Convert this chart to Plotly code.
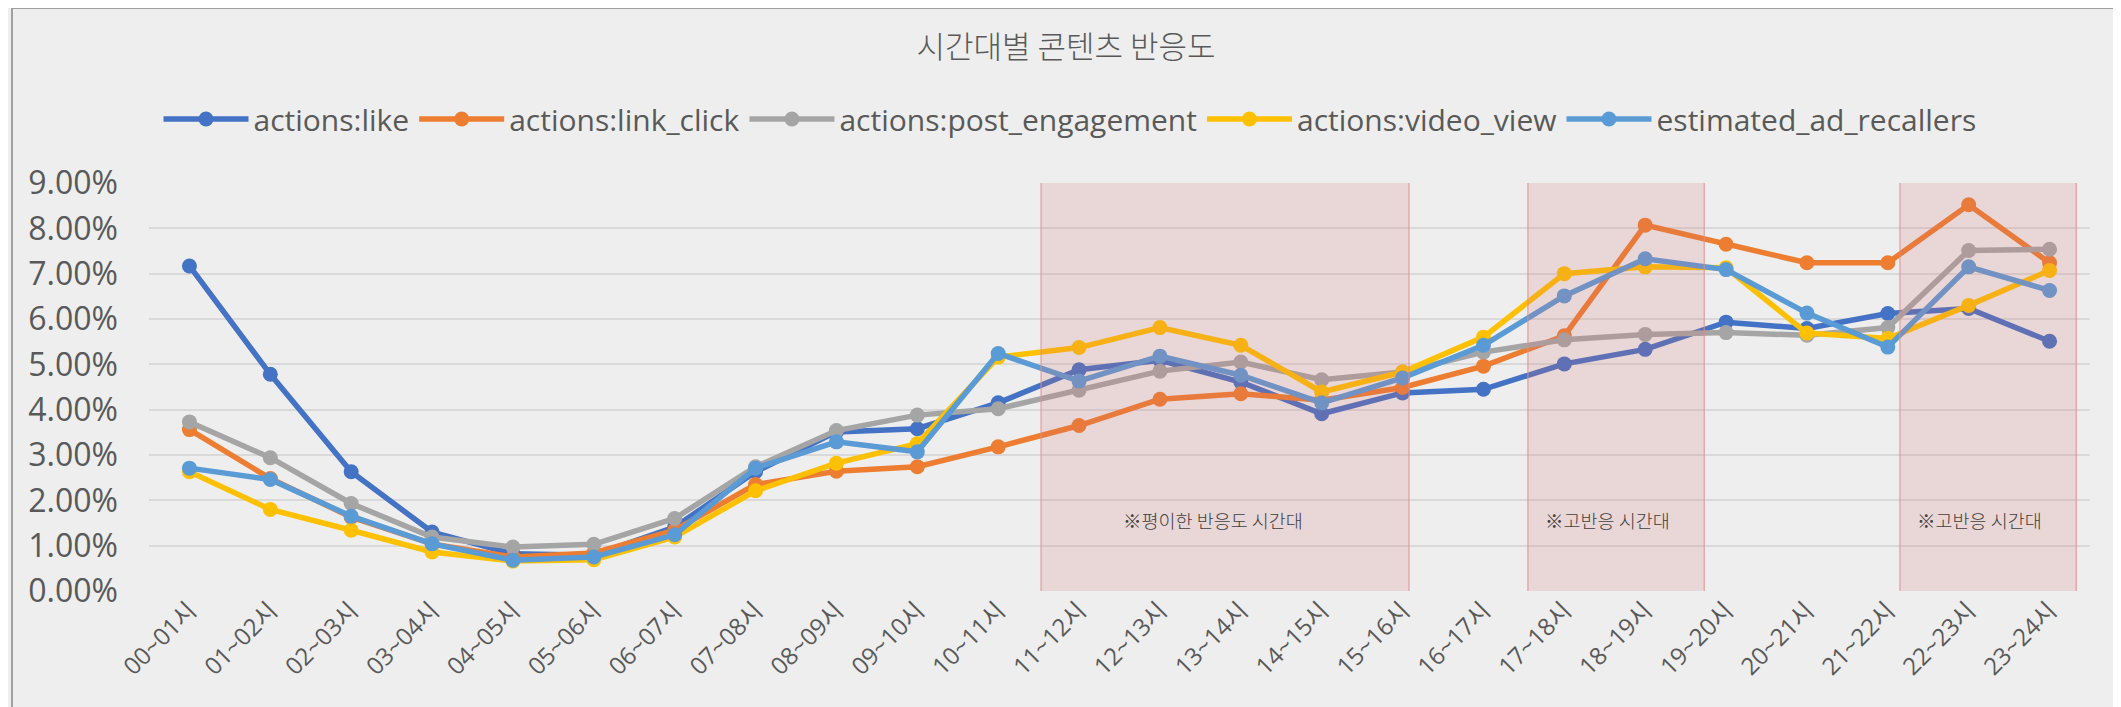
import plotly.graph_objects as go

categories = ["00~01시", "01~02시", "02~03시", "03~04시", "04~05시", "05~06시",
              "06~07시", "07~08시", "08~09시", "09~10시", "10~11시", "11~12시",
              "12~13시", "13~14시", "14~15시", "15~16시", "16~17시", "17~18시",
              "18~19시", "19~20시", "20~21시", "21~22시", "22~23시", "23~24시"]

like = [0.0717, 0.0478, 0.0263, 0.0130, 0.0082, 0.0079, 0.0141, 0.0263, 0.0351, 0.0358,
        0.0415, 0.0488, 0.0509, 0.0461, 0.0391, 0.0437, 0.0445, 0.0501, 0.0533, 0.0593,
        0.0579, 0.0612, 0.0623, 0.0551]
link_click = [0.0356, 0.0248, 0.0163, 0.0104, 0.0075, 0.0084, 0.0134, 0.0235, 0.0264, 0.0274,
              0.0318, 0.0365, 0.0423, 0.0435, 0.0421, 0.0449, 0.0496, 0.0563, 0.0807, 0.0765,
              0.0724, 0.0724, 0.0852, 0.0724]
post_engagement = [0.0373, 0.0294, 0.0193, 0.0119, 0.0097, 0.0103, 0.0160, 0.0274, 0.0354, 0.0388,
                   0.0402, 0.0443, 0.0485, 0.0505, 0.0466, 0.0483, 0.0527, 0.0554, 0.0566, 0.0570,
                   0.0564, 0.0581, 0.0751, 0.0754]
video_view = [0.0263, 0.0180, 0.0134, 0.0086, 0.0066, 0.0069, 0.0119, 0.0221, 0.0282, 0.0325,
              0.0516, 0.0537, 0.0581, 0.0542, 0.0439, 0.0483, 0.0560, 0.0700, 0.0715, 0.0713,
              0.0569, 0.0557, 0.0630, 0.0707]
ad_recallers = [0.0271, 0.0246, 0.0165, 0.0104, 0.0068, 0.0075, 0.0124, 0.0271, 0.0329, 0.0307,
                0.0524, 0.0463, 0.0518, 0.0476, 0.0415, 0.0470, 0.0542, 0.0651, 0.0733, 0.0709,
                0.0613, 0.0538, 0.0715, 0.0663]

series_names = ["actions:like", "actions:link_click", "actions:post_engagement",
                "actions:video_view", "estimated_ad_recallers"]
series_values = [like, link_click, post_engagement, video_view, ad_recallers]
series_colors = ["#4472C4", "#ED7D31", "#A5A5A5", "#FFC000", "#5B9BD5"]

y_ticks = [0, 0.01, 0.02, 0.03, 0.04, 0.05, 0.06, 0.07, 0.08, 0.09]

band_labels = ["※평이한 반응도 시간대", "※고반응 시간대", "※고반응 시간대"]

FONT = "Open Sans, Noto Sans CJK KR, sans-serif"
KFONT = "Noto Sans CJK KR, sans-serif"
TEXT = "#595959"

# the page body adds an 8px offset; figure is sized/margined to compensate
W, H = 2113, 699
ML, MT, MR = 141, 175, 31
PH = 408
MB = H - MT - PH

fig = go.Figure()
for name, vals, col in zip(series_names, series_values, series_colors):
    fig.add_trace(go.Scatter(
        x=categories, y=vals, name=name, mode="lines+markers",
        line=dict(color=col, width=5.5),
        marker=dict(color=col, size=15),
    ))

# highlighted time bands (drawn above the lines, semi-transparent)
bands = [(10.53, 15.08, 12.66), (16.55, 18.73, 17.54), (21.15, 23.33, 22.13)]
for (x0, x1, xc), lab in zip(bands, band_labels):
    fig.add_shape(type="rect", xref="x", yref="y", x0=x0, x1=x1, y0=-0.0011, y1=0.0929,
                  fillcolor="rgba(212,110,112,0.19)",
                  line=dict(color="rgba(225,140,140,0.8)", width=1.2), layer="above")
    fig.add_annotation(x=xc, y=0.0157, xref="x", yref="y", text=lab, showarrow=False,
                       font=dict(family=KFONT, size=18.5, color="#404040", weight=300))

# outer frame
PW = W - ML - MR
fig.add_shape(type="rect", xref="paper", yref="paper",
              x0=(4 - ML) / PW, x1=(2110 - ML) / PW,
              y0=-0.5, y1=(MT + PH - 0) / PH,
              line=dict(color="#A0A0A0", width=2), fillcolor="rgba(0,0,0,0)", layer="below")

fig.update_layout(
    width=W, height=H,
    margin=dict(l=ML, r=MR, t=MT, b=MB, autoexpand=False),
    paper_bgcolor="#EEEEEE", plot_bgcolor="rgba(0,0,0,0)",
    font=dict(family=FONT, color=TEXT),
    title=dict(text="시간대별 콘텐츠 반응도", x=1058 / W, xanchor="center", xref="container",
               y=1 - 39 / H, yanchor="middle", yref="container",
               font=dict(family=KFONT, size=31, color=TEXT, weight=300)),
    legend=dict(orientation="h", xref="container", x=1062 / W, xanchor="center",
                yref="container", y=1 - 111 / H, yanchor="middle",
                font=dict(family=FONT, size=30, color=TEXT),
                bgcolor="rgba(0,0,0,0)", itemwidth=85),
    showlegend=True,
)
fig.update_xaxes(range=[-0.5, 23.5], tickangle=-45, showgrid=False, showline=False,
                 zeroline=False, automargin=False,
                 tickfont=dict(family=FONT, size=24, color=TEXT), ticks="")
fig.update_yaxes(range=[0, 0.09], tickvals=y_ticks, tickformat=".2%", automargin=False,
                 showgrid=True, gridcolor="#D9D9D9", gridwidth=2, zeroline=False,
                 showline=False, ticklabelstandoff=30,
                 tickfont=dict(family=FONT, size=32, color=TEXT))

fig.write_html("out.html")
